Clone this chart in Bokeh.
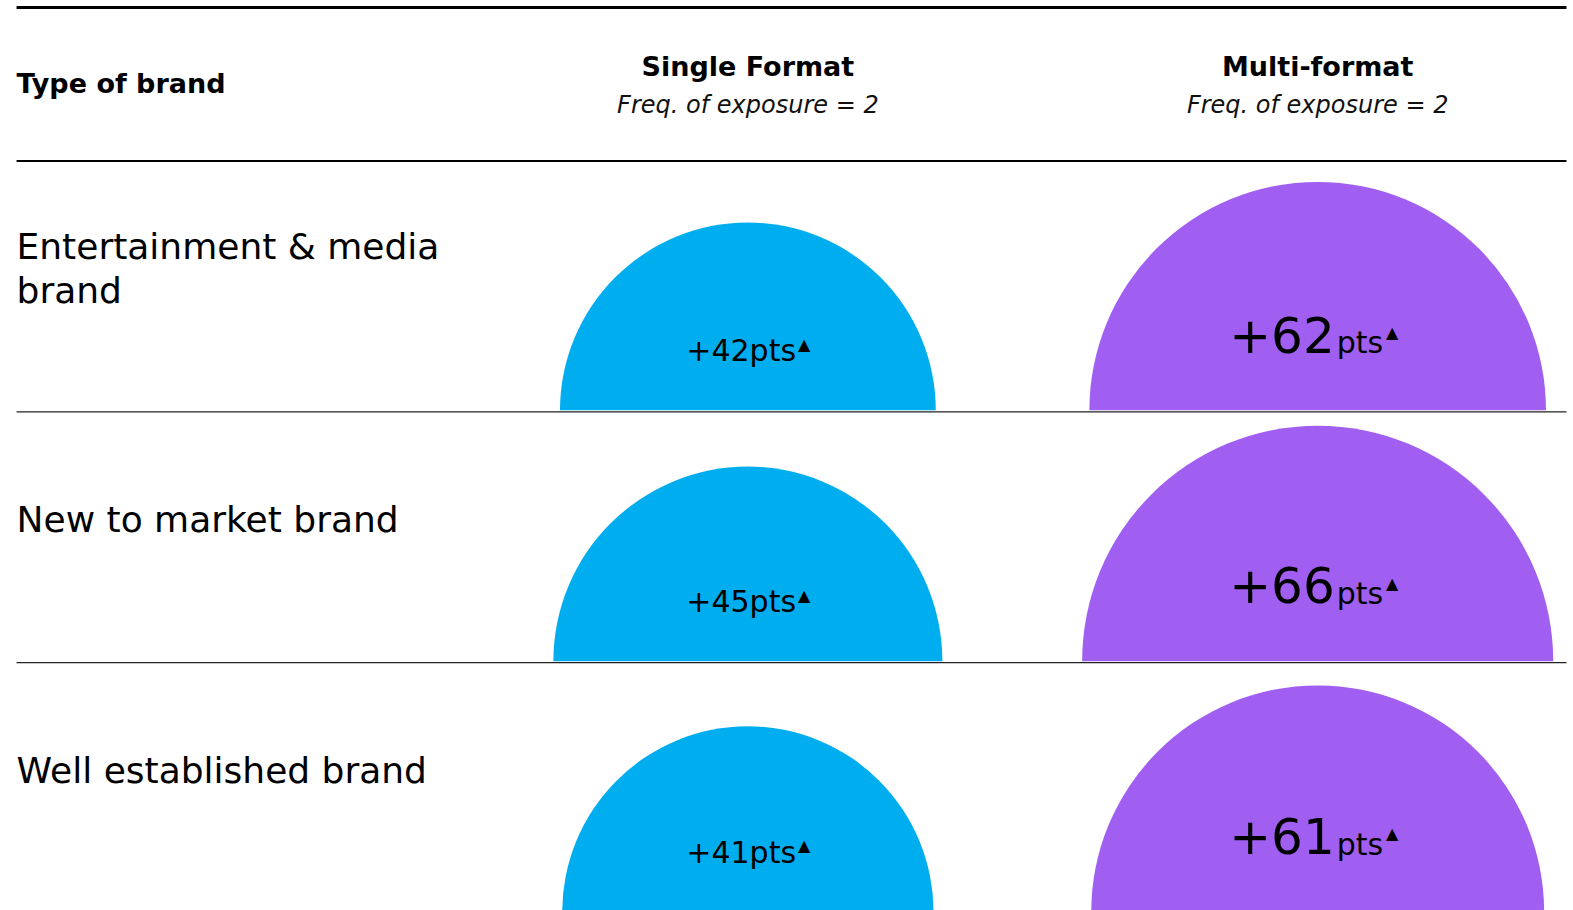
import numpy as np
from bokeh.plotting import figure
from bokeh.models import Range1d, ColumnDataSource
from bokeh.core.properties import value
from bokeh.embed import file_html
from bokeh.resources import INLINE

# ---- data ----
brand_types = ["Entertainment & media\nbrand", "New to market brand", "Well established brand"]
formats = ["Single Format", "Multi-format"]
subtitle = "Freq. of exposure = 2"
single_values = [42, 45, 41]
multi_values = [62, 66, 61]
header_label = "Type of brand"

# ---- layout (layout units, top-left origin) ----
W, H = 1573, 910
UW, UH = 1568, 907
FONT = "DejaVu Sans"
BLUE = "#00adef"
PURPLE = "#a05ff0"
row_lines = [410, 660, 910]
row_tops = [160, 410, 660]
col_x = [745, 1313]
left_x, right_x = 16, 1561
rscale = 28.9                        # radius = rscale * sqrt(value)


def Y(pix):
    return UH - pix


def B(baseline, fs):
    # place text so that its alphabetic baseline lands at `baseline`
    return Y(baseline - 0.40 * fs)


p = figure(width=W, height=H, x_range=Range1d(0, UW), y_range=Range1d(0, UH),
           output_backend="svg", toolbar_location=None,
           x_axis_location=None, y_axis_location=None, min_border=0)
p.grid.visible = False
p.outline_line_color = None
p.background_fill_color = "white"
p.border_fill_color = "white"

# semicircles
for ci, (vals, col) in enumerate([(single_values, BLUE), (multi_values, PURPLE)]):
    src = ColumnDataSource(dict(
        x=[col_x[ci]] * len(vals),
        y=[Y(b - 1.5) for b in row_lines],
        r=[rscale * np.sqrt(v) for v in vals],
    ))
    p.wedge(x="x", y="y", radius="r", start_angle=0, end_angle=np.pi,
            fill_color=col, line_color=None, source=src)

# horizontal rules
p.segment(x0=[left_x], y0=[Y(7)], x1=[right_x], y1=[Y(7)], line_color="black", line_width=3)
p.segment(x0=[left_x], y0=[Y(160)], x1=[right_x], y1=[Y(160)], line_color="black", line_width=2)
p.segment(x0=[left_x] * 2, y0=[Y(410), Y(660)], x1=[right_x] * 2, y1=[Y(410), Y(660)],
          line_color="#222222", line_width=1.3)

# header texts
p.text(x=[left_x], y=[B(94, 27)], text=[header_label], text_font=value(FONT),
       text_font_style="bold", text_font_size="27px", text_color="black",
       text_align="left", text_baseline="middle")
p.text(x=col_x, y=[B(77, 27)] * 2, text=formats, text_font=value(FONT),
       text_font_style="bold", text_font_size="27px", text_color="black",
       text_align="center", text_baseline="middle")
p.text(x=col_x, y=[B(114, 24)] * 2, text=[subtitle] * 2, text_font=value(FONT),
       text_font_style="italic", text_font_size="24px", text_color="#111111",
       text_align="center", text_baseline="middle")

# row labels
p.text(x=[left_x] * 3, y=[Y((t + b) / 2 - 18) for t, b in zip(row_tops, row_lines)],
       text=brand_types, text_font=value(FONT), text_font_size="36px",
       text_color="black", text_align="left", text_baseline="middle",
       text_line_height=1.08)

# single format labels
for i, v in enumerate(single_values):
    base = row_lines[i]
    p.text(x=[col_x[0] + 48], y=[B(base - 49, 30)], text=[f"+{v}pts"], text_font=value(FONT),
           text_font_size="30px", text_color="black", text_align="right",
           text_baseline="middle")
    p.text(x=[col_x[0] + 50], y=[B(base - 61, 16)], text=["\u25b2"], text_font=value(FONT),
           text_font_size="16px", text_color="black", text_align="left",
           text_baseline="middle")

# multi format labels
for i, v in enumerate(multi_values):
    base = row_lines[i]
    p.text(x=[col_x[1] + 17], y=[B(base - 57, 50)], text=[f"+{v}"], text_font=value(FONT),
           text_font_size="50px", text_color="black", text_align="right",
           text_baseline="middle")
    p.text(x=[col_x[1] + 19], y=[B(base - 57, 30)], text=["pts"], text_font=value(FONT),
           text_font_size="30px", text_color="black", text_align="left",
           text_baseline="middle")
    p.text(x=[col_x[1] + 68], y=[B(base - 73, 16)], text=["\u25b2"], text_font=value(FONT),
           text_font_size="16px", text_color="black", text_align="left",
           text_baseline="middle")

open("out.html", "w").write(file_html(p, INLINE))
